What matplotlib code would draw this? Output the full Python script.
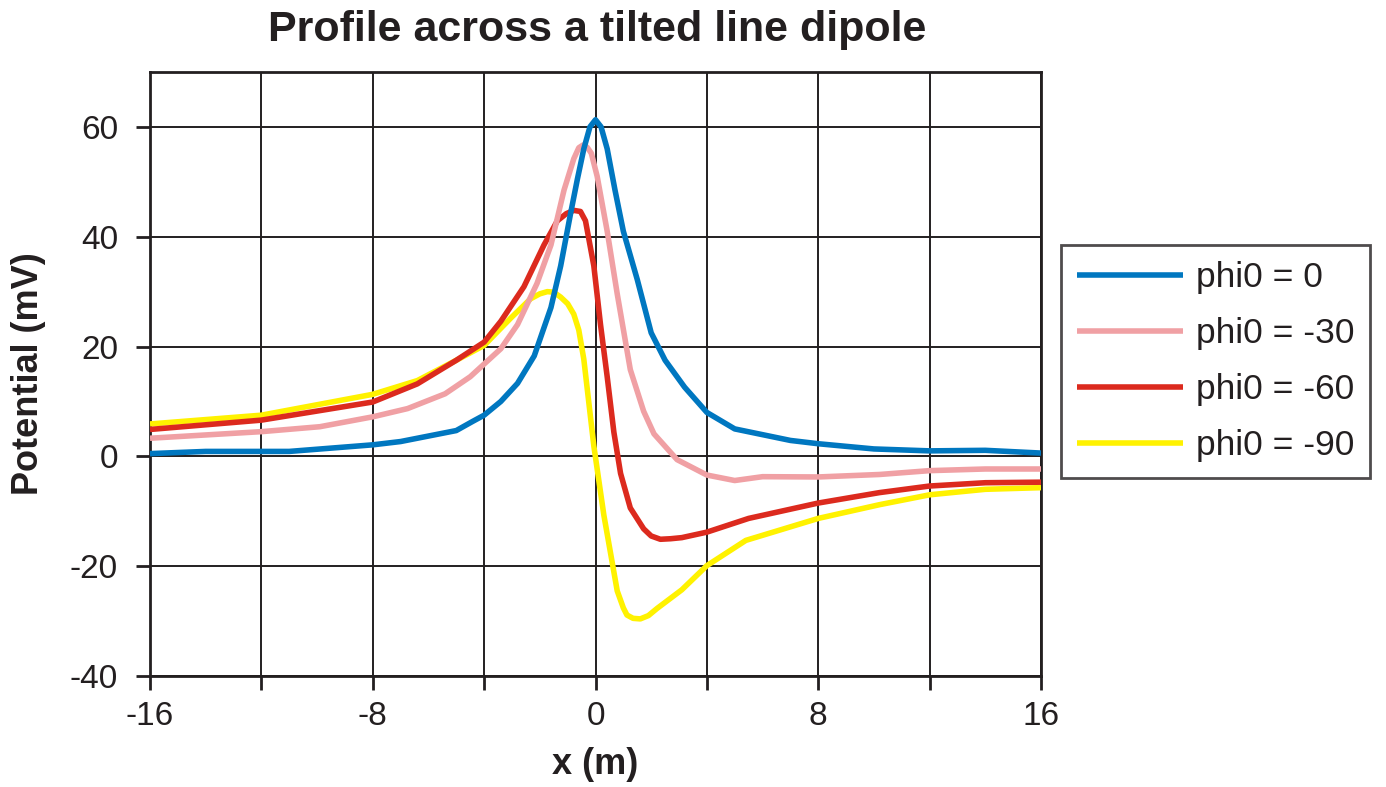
import matplotlib
matplotlib.use("Agg")
import matplotlib.pyplot as plt

plt.rcParams["font.family"] = ["Liberation Sans", "DejaVu Sans"]
plt.rcParams["axes.unicode_minus"] = False

# profile positions (m) and potentials (mV) for each dipole tilt
x_phi0_0 = [-16, -14, -11, -8, -7, -5, -4.4, -4, -3.4, -2.8, -2.2, -1.6, -1.25, -0.9,
            -0.65, -0.42, -0.2, 0, 0.2, 0.42, 0.7, 1.0, 1.5, 2.0, 2.5, 3.2, 4, 5, 7, 8,
            10, 12, 14, 16]
v_phi0_0 = [0.5, 0.9, 0.9, 2.1, 2.7, 4.7, 6.4, 7.5, 10.0, 13.3, 18.3, 27.1, 34.7, 44.1,
            50.5, 56.0, 60.0, 61.3, 60.0, 56.0, 48.5, 41.0, 32.2, 22.5, 17.5, 12.6, 8.0,
            5.0, 2.9, 2.3, 1.35, 1.0, 1.1, 0.6]

x_phi0_30 = [-16, -12, -9.9, -8, -6.75, -5.4, -4.5, -3.4, -2.8, -2.1, -1.6, -1.13, -0.78,
             -0.6, -0.45, -0.3, -0.15, 0.06, 0.42, 0.78, 1.25, 1.73, 2.1, 2.93, 4, 5, 6,
             8, 10.2, 12, 14, 16]
v_phi0_30 = [3.3, 4.5, 5.4, 7.2, 8.7, 11.4, 14.5, 19.6, 24.0, 31.5, 38.5, 48.5, 54.2,
             56.2, 56.7, 56.3, 55.2, 51.0, 41.0, 29.6, 15.8, 8.2, 4.1, -0.6, -3.4, -4.4,
             -3.7, -3.75, -3.3, -2.6, -2.3, -2.3]

x_phi0_60 = [-16, -12, -8, -6.4, -5.0, -4, -3.4, -2.57, -1.85, -1.37, -1.05, -0.78, -0.54,
             -0.36, -0.06, 0.18, 0.42, 0.66, 0.9, 1.25, 1.73, 2.0, 2.33, 2.7, 3.1, 4, 5.5,
             8, 10.2, 12, 14, 16]
v_phi0_60 = [4.9, 6.6, 9.9, 13.2, 17.5, 20.8, 24.6, 30.9, 38.5, 42.9, 44.2, 44.8, 44.6,
             42.9, 34.7, 24.0, 14.5, 4.4, -3.1, -9.4, -13.2, -14.5, -15.1, -15.0, -14.8,
             -13.8, -11.3, -8.5, -6.6, -5.4, -4.8, -4.7]

x_phi0_90 = [-16, -12, -8, -6.4, -5.0, -4, -3.04, -2.33, -2.0, -1.73, -1.5, -1.25, -1.0,
             -0.78, -0.6, -0.42, -0.06, 0.3, 0.78, 1.0, 1.13, 1.35, 1.61, 1.9, 2.21, 3.1,
             4, 5.4, 8, 10.2, 12, 14, 16]
v_phi0_90 = [5.9, 7.5, 11.3, 13.8, 17.5, 20.2, 25.2, 28.7, 29.6, 30.0, 29.9, 29.0, 27.8,
             25.9, 23.0, 17.7, 1.9, -10.7, -24.5, -27.6, -28.9, -29.5, -29.6, -29.0, -27.7,
             -24.3, -19.9, -15.3, -11.3, -8.8, -7.0, -6.0, -5.7]

labels = ["phi0 = 0", "phi0 = -30", "phi0 = -60", "phi0 = -90"]
colors = ["#0077c0", "#f0a0a4", "#dc2a1e", "#fff200"]
series = [(x_phi0_0, v_phi0_0), (x_phi0_30, v_phi0_30),
          (x_phi0_60, v_phi0_60), (x_phi0_90, v_phi0_90)]

ink = "#231f20"

fig = plt.figure(figsize=(13.86, 7.87), dpi=100)
ax = fig.add_axes([150 / 1386, 1 - 676 / 787, 891 / 1386, 604 / 787])

# later tilts sit underneath, phi0 = 0 on top
for i, ((xs, vs), lab, c) in enumerate(zip(series, labels, colors)):
    ax.plot(xs, vs, color=c, lw=4.0, label=lab, zorder=10 - i,
            solid_capstyle="butt", solid_joinstyle="round")

ax.set_xlim(-16, 16)
ax.set_ylim(-40, 70)
ax.set_xticks(range(-16, 17, 4))
ax.set_xticklabels([str(v) if v % 8 == 0 else "" for v in range(-16, 17, 4)])
ax.set_yticks(range(-40, 61, 20))
ax.grid(True, color=ink, lw=1.4)
ax.set_axisbelow(True)

ax.tick_params(axis="both", direction="out", length=10, width=2, color=ink,
               labelsize=24, labelcolor=ink)
ax.tick_params(axis="y", pad=13)
ax.tick_params(axis="x", pad=8)
for sp in ax.spines.values():
    sp.set_linewidth(2)
    sp.set_color(ink)

ax.set_xlabel("x (m)", fontsize=26, fontweight="bold", color=ink, va="center")
ax.xaxis.set_label_coords(0.5, (676 - 765) / 604)
ax.set_ylabel("Potential (mV)", fontsize=26, fontweight="bold", color=ink, va="center")
ax.yaxis.set_label_coords((29 - 150) / 891, 0.5)

fig.suptitle("Profile across a tilted line dipole", x=597 / 1386, y=1 - 30 / 787,
             va="center", fontsize=31, fontweight="bold", color=ink)

leg = ax.legend(loc="upper left", bbox_to_anchor=(1061 / 1386, 1 - 245 / 787),
                bbox_transform=fig.transFigure, borderaxespad=0, fontsize=25.5,
                frameon=True, fancybox=False, handlelength=3.0, handletextpad=0.35,
                labelspacing=0.65, borderpad=0.45)
leg.get_frame().set_edgecolor(ink)
leg.get_frame().set_linewidth(2)
for t in leg.get_texts():
    t.set_color(ink)

fig.savefig("out.png", dpi=100)
